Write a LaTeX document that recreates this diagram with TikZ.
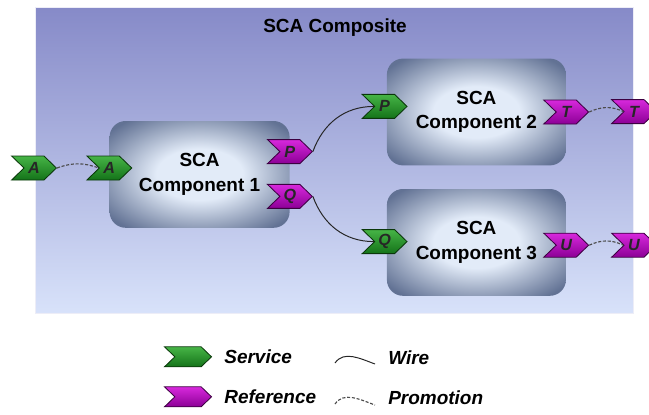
\documentclass[tikz,border=0pt]{standalone}
\usepackage{fontspec}
\setmainfont{Liberation Sans}
\usepackage{tikz}
\usetikzlibrary{shapes.symbols}
\usetikzlibrary{positioning}
\usetikzlibrary{calc}

\definecolor{svctop}{RGB}{70,180,70}
\definecolor{svcbot}{RGB}{20,115,25}
\definecolor{svcline}{RGB}{10,55,10}
\definecolor{reftop}{RGB}{215,40,220}
\definecolor{refbot}{RGB}{140,0,150}
\definecolor{refline}{RGB}{60,0,65}
\definecolor{comptop}{RGB}{134,138,200}
\definecolor{compbot}{RGB}{216,226,250}
\definecolor{compin}{RGB}{226,235,248}
\definecolor{compout}{RGB}{98,114,148}

\pgfdeclareradialshading{compshade}{\pgfpoint{0bp}{0bp}}{color(0bp)=(compin); color(12bp)=(compin); color(25bp)=(compout!65!compin); color(32bp)=(compout); color(70bp)=(compout)}

\tikzset{
chevron/.style={shape=signal, signal to=east, signal from=west, signal pointer angle=88,
  minimum width=1.12cm, minimum height=0.6cm, inner sep=0pt, line width=0.6pt,
  font=\fontsize{11.5}{12}\selectfont\bfseries\itshape, text=black!85},
service/.style={chevron, top color=svctop, bottom color=svcbot, draw=svcline},
reference/.style={chevron, top color=reftop, bottom color=refbot, draw=refline},
}

\begin{document}
\begin{tikzpicture}[
component/.style={rectangle, rounded corners=0.4cm, shading=compshade, minimum width=4.5cm,
  minimum height=2.67cm, align=center, font=\fontsize{13.5}{17.5}\selectfont\bfseries},
wire/.style={line width=0.7pt, black!85},
promo/.style={line width=0.8pt, black!70, dash pattern=on 2.2pt off 1.2pt},
legtext/.style={inner sep=0pt, font=\fontsize{13.5}{16}\selectfont\bfseries\itshape}]

\useasboundingbox (0,0) rectangle (16.225,10.35);

% kompozit keret
\node[rectangle, top color=comptop, bottom color=compbot, draw=white!85!comptop,
  minimum width=14.95cm, minimum height=7.65cm, inner sep=0pt] (composite) at (8.35,6.35) {};
\node[font=\fontsize{13.5}{16}\selectfont\bfseries] (title) at (8.375,9.65) {SCA Composite};

% komponensek
\node[component] (comp1) at (4.99,5.99) {SCA\\Component 1};
\node[component, minimum width=4.475cm] (comp2) at (11.91,7.55) {SCA\\Component 2};
\node[component, minimum width=4.475cm] (comp3) at (11.91,4.29) {SCA\\Component 3};

% szolgaltatasok es referenciak
\node[service] (Aout) at (0.85,6.15) {A};
\node[service] (Ain) at (comp1.west |- Aout) {A};
\node[reference] (P1) at ($(comp1.east)+(0,0.57)$) {P};
\node[reference] (Q1) at ($(comp1.east)+(0,-0.55)$) {Q};
\node[service] (P2) at ($(comp2.west)+(-0.05,0.14)$) {P};
\node[reference] (T2) at (comp2.east) {T};
\node[reference] (Tout) at (15.85,7.56) {T};
\node[service] (Q3) at ($(comp3.west)+(-0.05,0.02)$) {Q};
\node[reference] (U3) at ($(comp3.east)+(0,-0.07)$) {U};
\node[reference] (Uout) at (Tout |- U3) {U};

% vezetekek
\draw[promo] (Aout.east) to[out=20,in=160] (Ain.west);
\draw[wire] (P1.east) to[out=70,in=180] (P2.west);
\draw[wire] (Q1.east) to[out=-70,in=180] (Q3.west);
\draw[promo] (T2.east) to[out=25,in=155] (Tout.west);
\draw[promo] (U3.east) to[out=25,in=155] (Uout.west);

% jelmagyarazat
\node[service, minimum width=1.175cm, minimum height=0.5cm] (legsvc) at (4.7,1.43) {};
\node[reference, minimum width=1.175cm, minimum height=0.5cm] (legref) at (4.7,0.43) {};
\node[legtext, right=0.3cm of legsvc] (legsvctxt) {Service};
\node[legtext, right=0.3cm of legref] (legreftxt) {Reference};
\coordinate (w1) at (8.375,1.275);
\coordinate (w2) at (9.375,1.25);
\coordinate (p1) at (8.375,0.25);
\coordinate (p2) at (9.375,0.225);
\draw[wire] (w1) to[out=55,in=160] (w2);
\draw[promo] (p1) to[out=55,in=160] (p2);
\node[legtext, anchor=west] (legwiretxt) at (9.7,1.4) {Wire};
\node[legtext, anchor=west] (legpromotxt) at (9.7,0.4) {Promotion};
\end{tikzpicture}
\end{document}
